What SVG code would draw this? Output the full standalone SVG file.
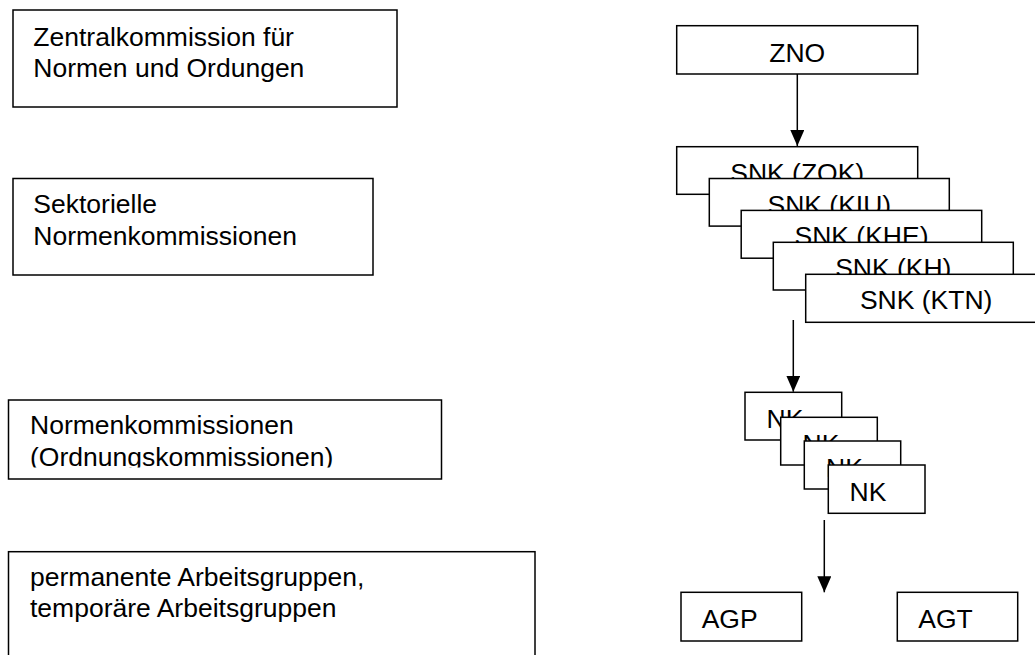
<svg xmlns="http://www.w3.org/2000/svg" width="1035" height="655" viewBox="0 0 1035 655">
<style>
.box{fill:#fff;stroke:#000;stroke-width:1.5}
.t{font-family:"Liberation Sans",Arial,sans-serif;font-size:26.5px;fill:#000}
.c{text-anchor:middle}
.con{stroke:#000;stroke-width:1.5;fill:none}
</style>
<defs>
<marker id="ah" markerUnits="userSpaceOnUse" markerWidth="16" markerHeight="14" viewBox="0 0 16 14" refX="16" refY="7" orient="auto">
<path d="M0,0 L16,7 L0,14 z" fill="#000"/>
</marker>
<clipPath id="clip3"><rect x="8" y="400" width="434" height="67.5"/></clipPath>
</defs>
<rect width="1035" height="655" fill="#fff"/>
<g id="legend-zno">
<rect class="box" x="13" y="10" width="384" height="97"/>
<text class="t" x="33.3" y="45.7">Zentralkommission für</text>
<text class="t" x="33.3" y="76.7">Normen und Ordungen</text>
</g>
<g id="legend-snk">
<rect class="box" x="13" y="178.5" width="360" height="96.5"/>
<text class="t" x="33.3" y="213.3">Sektorielle</text>
<text class="t" x="33.3" y="245">Normenkommissionen</text>
</g>
<g id="legend-nk">
<rect class="box" x="8.5" y="400" width="433" height="79"/>
<g clip-path="url(#clip3)">
<text class="t" x="30" y="434.3">Normenkommissionen</text>
<text class="t" x="30" y="466">(Ordnungskommissionen)</text>
</g>
</g>
<g id="legend-ag">
<rect class="box" x="8.5" y="551.7" width="526.5" height="120"/>
<text class="t" x="30" y="585.7">permanente Arbeitsgruppen,</text>
<text class="t" x="30" y="616.7">temporäre Arbeitsgruppen</text>
</g>
<g id="zno">
<rect class="box" x="676.7" y="25.7" width="241" height="48.3"/>
<text class="t c" x="797.2" y="62.3">ZNO</text>
</g>
<g id="snk-zok">
<rect class="box" x="676.7" y="146.7" width="241" height="47.6"/>
<text class="t c" x="797.2" y="181.7">SNK (ZOK)</text>
</g>
<g id="snk-kiu">
<rect class="box" x="709.3" y="178.5" width="240" height="47.6"/>
<text class="t c" x="829.3" y="213.5">SNK (KIU)</text>
</g>
<g id="snk-khe">
<rect class="box" x="741.2" y="210.4" width="240.5" height="47.8"/>
<text class="t c" x="861.5" y="245.4">SNK (KHE)</text>
</g>
<g id="snk-kh">
<rect class="box" x="773.3" y="242.3" width="240" height="47.7"/>
<text class="t c" x="893.3" y="277.3">SNK (KH)</text>
</g>
<g id="snk-ktn">
<rect class="box" x="805.7" y="274.3" width="241" height="48"/>
<text class="t c" x="926.2" y="309.3">SNK (KTN)</text>
</g>
<g id="nk1">
<rect class="box" x="745" y="392.3" width="96.7" height="47.7"/>
<text class="t" x="766.5" y="428.3">NK</text>
</g>
<g id="nk2">
<rect class="box" x="780.7" y="417.3" width="96.6" height="47.7"/>
<text class="t" x="802.5" y="453.3">NK</text>
</g>
<g id="nk3">
<rect class="box" x="804.3" y="441" width="96.4" height="48"/>
<text class="t" x="826" y="477">NK</text>
</g>
<g id="nk4">
<rect class="box" x="828.3" y="465" width="96.7" height="48.3"/>
<text class="t" x="849.5" y="501">NK</text>
</g>
<g id="agp">
<rect class="box" x="681" y="592.3" width="120.7" height="48.7"/>
<text class="t" x="701.7" y="628.3">AGP</text>
</g>
<g id="agt">
<rect class="box" x="897.3" y="592.3" width="120.4" height="48.7"/>
<text class="t" x="918.3" y="628.3">AGT</text>
</g>
<g id="connectors">
<line class="con" x1="797.3" y1="74" x2="797.3" y2="146" marker-end="url(#ah)"/>
<line class="con" x1="793.3" y1="320" x2="793.3" y2="391.7" marker-end="url(#ah)"/>
<line class="con" x1="824.3" y1="520" x2="824.3" y2="592.3" marker-end="url(#ah)"/>
</g>
</svg>
